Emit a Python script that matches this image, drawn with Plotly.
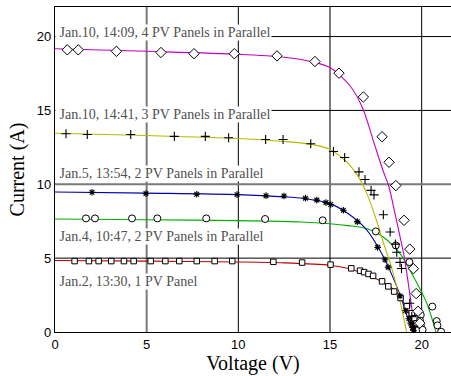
import plotly.graph_objects as go

# ---------------- data ----------------
# fitted curves
v_fit4 = [0, 5, 10, 12.5, 14, 15, 16.1, 16.8, 17.4, 17.9, 18.2, 18.6, 19.06, 19.35, 19.64]
i_fit4 = [19.17, 19.0, 18.8, 18.6, 18.3, 17.9, 16.65, 15.1, 12.8, 10.9, 9.9, 7.7, 5.0, 2.6, 0]

v_fit3 = [0, 5, 10, 12.5, 14, 15, 16, 16.5, 17.0, 17.5, 17.95, 18.3, 18.75, 19.18]
i_fit3 = [13.45, 13.3, 13.1, 12.9, 12.7, 12.36, 11.4, 10.6, 9.4, 7.7, 5.9, 4.6, 2.5, 0]

v_fit2a = [0, 5, 10, 12.5, 13.5, 15, 16, 17, 17.91, 18.4, 18.82, 19.2, 19.51]
i_fit2a = [9.48, 9.4, 9.3, 9.15, 9.05, 8.69, 8.0, 6.92, 5.11, 3.8, 2.51, 1.1, 0]

v_fit2b = [0, 5, 10, 13.4, 15, 16, 17, 17.9, 18.82, 19.55, 20.28, 20.78]
i_fit2b = [7.65, 7.6, 7.54, 7.45, 7.33, 7.2, 7.0, 6.43, 5.3, 3.76, 1.95, 0]

v_fit1 = [0, 5, 10, 12.5, 15, 16, 17, 17.91, 18.5, 18.82, 19.1, 19.37, 19.64]
i_fit1 = [4.84, 4.8, 4.74, 4.68, 4.52, 4.3, 3.87, 3.35, 2.85, 2.4, 1.8, 1.04, 0]

# measured points
v_dia = [0.67, 1.27, 3.35, 5.78, 7.58, 9.78, 12.11, 14.18, 15.49, 16.82, 17.84, 18.22,
         18.59, 19.04, 19.35, 19.55, 19.7, 19.8, 19.9]
i_dia = [19.1, 19.1, 19.0, 18.92, 18.84, 18.84, 18.69, 18.31, 17.52, 15.91, 13.22, 11.49,
         9.91, 7.56, 5.61, 4.29, 2.6, 1.4, 0.6]

v_plus = [0.60, 1.76, 4.13, 6.51, 8.20, 9.47, 11.49, 12.44, 13.95, 15.19, 15.80, 16.58,
          16.91, 17.24, 17.40, 17.91, 18.28, 18.57, 18.64, 18.82, 18.9, 19.35, 19.46, 19.55]
i_plus = [13.42, 13.37, 13.37, 13.24, 13.24, 13.15, 13.03, 13.03, 12.74, 12.22, 11.81, 10.84,
          10.32, 9.59, 9.28, 7.94, 6.77, 5.95, 5.4, 4.71, 4.3, 1.95, 1.04, 0.4]

v_star = [2.02, 4.96, 7.73, 9.93, 11.51, 12.49, 13.66, 14.28, 14.78, 15.04, 15.73, 16.49,
          17.6, 18.0, 18.17, 18.82, 19.12, 19.3, 19.4, 19.5, 19.55]
i_star = [9.46, 9.37, 9.32, 9.30, 9.23, 9.21, 9.06, 8.93, 8.76, 8.63, 8.24, 7.47,
          5.73, 4.89, 4.39, 2.44, 1.44, 0.9, 0.6, 0.3, 0.1]

v_circ = [1.69, 2.18, 4.2, 5.58, 8.25, 11.46, 14.6, 17.5, 18.59, 19.33, 19.95, 19.91,
          19.95, 20.05, 20.58, 20.82, 20.86, 21.06]
i_circ = [7.69, 7.69, 7.69, 7.69, 7.69, 7.65, 7.56, 6.81, 5.86, 4.73, 1.15, 0.77,
          0.45, 0.15, 1.72, 0.74, 0.45, 0.02]

v_sq = [1.07, 1.85, 2.38, 3.07, 3.76, 4.29, 5.22, 6.02, 6.78, 7.73, 8.71, 9.67, 11.91,
        13.48, 15.03, 16.16, 16.64, 16.86, 17.1, 17.35, 17.84, 18.18, 18.5, 18.85, 19.19,
        19.46, 19.6, 19.73, 19.82]
i_sq = [4.80, 4.80, 4.80, 4.80, 4.80, 4.80, 4.80, 4.80, 4.80, 4.80, 4.80, 4.80, 4.75,
        4.70, 4.56, 4.31, 4.15, 4.05, 3.93, 3.80, 3.43, 3.09, 2.74, 2.3, 1.75,
        1.27, 0.93, 0.59, 0.14]

labels = ["Jan.10, 14:09, 4 PV Panels in Parallel",
          "Jan.10, 14:41, 3 PV Panels in Parallel",
          "Jan.5, 13:54, 2 PV Panels in Parallel",
          "Jan.4, 10:47, 2 PV Panels in Parallel",
          "Jan.2, 13:30, 1 PV Panel"]
label_y = [20.3, 14.7, 10.7, 6.45, 3.42]

x_ticks = [0, 5, 10, 15, 20]
y_ticks = [0, 5, 10, 15, 20]
x_grid_dark = [False, False, True, False, True]
y_grid_dark = [False, True, False, True, True]

# ---------------- figure ----------------
fig = go.Figure()

curves = [(v_fit1, i_fit1, "#c00000"), (v_fit2b, i_fit2b, "#00b000"),
          (v_fit2a, i_fit2a, "#0000b0"), (v_fit3, i_fit3, "#b8b800"),
          (v_fit4, i_fit4, "#c000c0")]
for vx, iy, col in curves:
    fig.add_trace(go.Scatter(x=vx, y=iy, mode="lines",
                             line=dict(color=col, width=1.1, shape="spline", smoothing=0.8),
                             hoverinfo="skip"))

markers = [
    (v_sq, i_sq, "square", 5.5, "white", 1.0),
    (v_circ, i_circ, "circle", 7, "white", 1.0),
    (v_star, i_star, "asterisk-open", 5.5, "black", 1.1),
    (v_plus, i_plus, "cross-thin-open", 6.5, "black", 1.1),
    (v_dia, i_dia, "diamond", 8, "white", 1.0),
]
for vx, iy, sym, sz, fill, lw in markers:
    fig.add_trace(go.Scatter(x=vx, y=iy, mode="markers",
                             marker=dict(symbol=sym, size=sz, color=fill,
                                         line=dict(color="black", width=lw))))

shapes = []
for xv, dark in zip(x_ticks[1:], x_grid_dark[1:]):
    shapes.append(dict(type="line", xref="x", yref="paper", x0=xv, x1=xv, y0=0, y1=1,
                       layer="below",
                       line=dict(color="black" if dark else "#7a7a7a", width=1 if dark else 2)))
for yv, dark in zip(y_ticks[1:], y_grid_dark[1:]):
    shapes.append(dict(type="line", xref="paper", yref="y", x0=0, x1=1, y0=yv, y1=yv,
                       layer="below",
                       line=dict(color="black" if dark else "#7a7a7a", width=1 if dark else 2)))

annotations = []
for txt, yv in zip(labels, label_y):
    annotations.append(dict(x=0, y=yv, xref="x", yref="y", xanchor="left", yanchor="middle",
                            text="\u00a0" + txt, showarrow=False, bgcolor="white",
                            borderpad=0,
                            font=dict(family="Liberation Serif", size=14, color="#505050")))

fig.update_layout(
    width=451, height=376,
    margin=dict(l=55, r=0, t=7, b=44),
    paper_bgcolor="white", plot_bgcolor="white",
    showlegend=False,
    shapes=shapes, annotations=annotations,
    xaxis=dict(range=[0, 21.6], tickvals=x_ticks, showgrid=False, zeroline=False,
               showline=True, linecolor="black", linewidth=1.3, mirror=True,
               ticks="", tickfont=dict(family="Liberation Sans", size=13, color="black"),
               title=dict(text="Voltage (V)", standoff=4,
                          font=dict(family="Liberation Serif", size=20, color="black"))),
    yaxis=dict(range=[0, 22], tickvals=y_ticks, showgrid=False, zeroline=False,
               showline=True, linecolor="black", linewidth=1.3, mirror=False,
               ticks="", tickfont=dict(family="Liberation Sans", size=13, color="black"),
               title=dict(text="Current (A)", standoff=6,
                          font=dict(family="Liberation Serif", size=20, color="black"))),
)

fig.write_html("out.html")
